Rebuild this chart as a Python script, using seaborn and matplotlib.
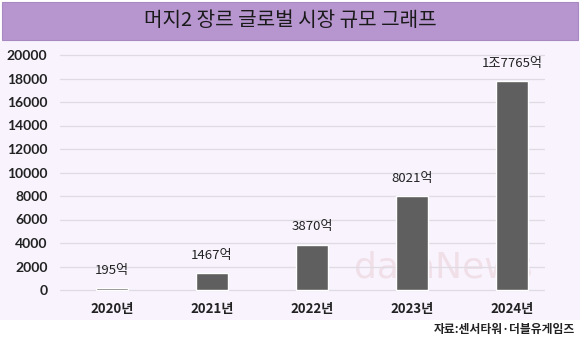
import matplotlib
matplotlib.use("Agg")
import matplotlib.pyplot as plt
import seaborn as sns
import pandas as pd
from matplotlib.patches import Rectangle

years = ["2020년", "2021년", "2022년", "2023년", "2024년"]
values = [195, 1467, 3870, 8021, 17765]
value_labels = ["195억", "1467억", "3870억", "8021억", "1조7765억"]
yticks = [0, 2000, 4000, 6000, 8000, 10000, 12000, 14000, 16000, 18000, 20000]
title = "머지2 장르 글로벌 시장 규모 그래프"
source = "자료:센서타워·더블유게임즈"

sns.set_theme(style="white")
plt.rcParams['font.family'] = ['Noto Sans CJK KR', 'DejaVu Sans']

W, H = 580, 346
fig = plt.figure(figsize=(W / 100, H / 100), dpi=100)
fig.patch.set_facecolor("white")

# lavender panel
fig.add_artist(Rectangle((0, 1 - 320 / H), 1, (320 - 41) / H, transform=fig.transFigure,
                         facecolor="#f8f3fd", edgecolor="none", zorder=-2))
# title band
fig.add_artist(Rectangle((2 / W, 1 - 40 / H), (W - 4) / W, 38 / H, transform=fig.transFigure,
                         facecolor="#b796cf", edgecolor="#a888c0", linewidth=0.8, zorder=1))
fig.text(0.5, 1 - 21 / H, title, ha="center", va="center", fontsize=14.5, color="#1a1a1a",
         family=['Noto Sans CJK KR', 'DejaVu Sans'], zorder=2)

# faint watermark (behind bars)
fig.text(443 / W, 1 - 267 / H, "dataNews", ha="center", va="center", fontsize=26,
         color="#f1dfe8", family=['DejaVu Sans'], zorder=-1)

ax = fig.add_axes([60 / W, 1 - 294.7 / H, (545 - 60) / W, (294.7 - 50.3) / H])
ax.set_facecolor("none")

df = pd.DataFrame({"year": years, "value": values})
sns.barplot(data=df, x="year", y="value", color="#5f5f5f", saturation=1, width=0.32, ax=ax, zorder=3)

ax.set_xlim(-0.52, 4.33)
ax.set_ylim(-400, 20400)
ax.set_yticks(yticks)
ax.set_yticklabels([str(t) for t in yticks])
ax.yaxis.grid(True, color="#dedbe2", linewidth=0.9, zorder=0)
ax.set_axisbelow(True)
for s in ax.spines.values():
    s.set_visible(False)
ax.tick_params(axis="y", length=0, pad=9, labelsize=10, labelcolor="#222222")
ax.tick_params(axis="x", length=0, pad=5, labelsize=9.5, labelcolor="#222222")
for lbl in ax.get_yticklabels():
    lbl.set_family(['Lato', 'DejaVu Sans'])
    lbl.set_fontweight("bold")
for lbl in ax.get_xticklabels():
    lbl.set_fontweight("bold")
ax.set_xlabel("")
ax.set_ylabel("")

for i, (v, t) in enumerate(zip(values, value_labels)):
    ax.annotate(t, xy=(i, v), xytext=(0, 8), textcoords="offset points", ha="center",
                va="bottom", fontsize=9.5, color="#222222", fontweight="medium")

fig.text(575 / W, 1 - 330 / H, source, ha="right", va="center", fontsize=8.5,
         fontweight="bold", color="#222222")

fig.savefig("out.png", dpi=100)
